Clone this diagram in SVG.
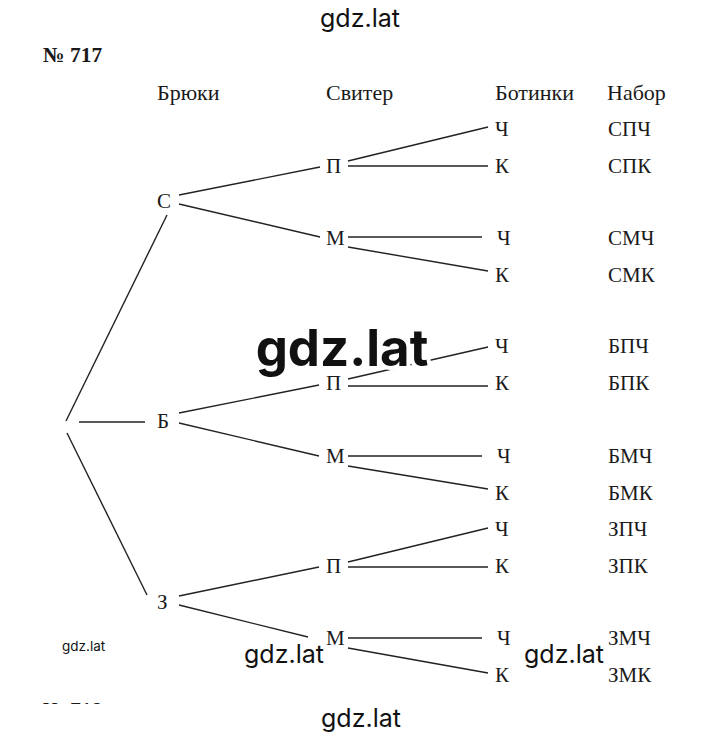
<svg xmlns="http://www.w3.org/2000/svg" width="720" height="736" viewBox="0 0 720 736">
<style>
.t{font-family:"Liberation Serif","Times New Roman",serif;font-size:21px;fill:#1a1a1a}
.h{font-family:"Liberation Serif","Times New Roman",serif;font-size:22px;fill:#1a1a1a}
.b{font-family:"Liberation Serif","Times New Roman",serif;font-size:21.5px;font-weight:bold;fill:#1a1a1a}
.w{font-family:Inter,"Noto Sans",sans-serif;fill:#111}
.c line{stroke:#222;stroke-width:1.4}
</style>
<defs>
<clipPath id="cut"><rect x="0" y="0" width="720" height="704"/></clipPath>
</defs>
<rect width="720" height="736" fill="#fff"/>
<text class="b" x="43" y="62">№ 717</text>
<g id="headers">
<text class="h" x="157" y="100">Брюки</text>
<text class="h" x="326" y="100">Свитер</text>
<text class="h" x="495" y="100">Ботинки</text>
<text class="h" x="607" y="100">Набор</text>
</g>
<g class="c" id="connectors">
<line x1="66" y1="421" x2="167" y2="215"/>
<line x1="79" y1="422" x2="145" y2="422"/>
<line x1="67" y1="433" x2="147" y2="595"/>
<line x1="179" y1="195" x2="320" y2="167"/>
<line x1="179" y1="204" x2="320" y2="237"/>
<line x1="179" y1="413" x2="319" y2="385"/>
<line x1="179" y1="423" x2="319" y2="456"/>
<line x1="179" y1="596" x2="319" y2="567"/>
<line x1="179" y1="605" x2="308" y2="637"/>
<line x1="348" y1="161" x2="488" y2="127"/>
<line x1="348" y1="166" x2="488" y2="166"/>
<line x1="348" y1="237" x2="482" y2="237"/>
<line x1="348" y1="247" x2="488" y2="271"/>
<line x1="348" y1="379" x2="488" y2="347"/>
<line x1="348" y1="386" x2="488" y2="386"/>
<line x1="348" y1="456" x2="482" y2="456"/>
<line x1="348" y1="466" x2="488" y2="489"/>
<line x1="348" y1="562" x2="488" y2="528"/>
<line x1="348" y1="567" x2="488" y2="567"/>
<line x1="348" y1="638" x2="482" y2="638"/>
<line x1="348" y1="648" x2="488" y2="673"/>
</g>
<g id="n-S"><text class="t" x="157" y="208">С</text></g>
<g id="n-B"><text class="t" x="157" y="428">Б</text></g>
<g id="n-Z"><text class="t" x="157" y="609">З</text></g>
<g id="n-SP"><text class="t" x="326" y="173">П</text></g>
<g id="n-SM"><text class="t" x="326" y="245">М</text></g>
<g id="n-BP"><text class="t" x="326" y="390">П</text></g>
<g id="n-BM"><text class="t" x="326" y="463">М</text></g>
<g id="n-ZP"><text class="t" x="326" y="573">П</text></g>
<g id="n-ZM"><text class="t" x="326" y="645">М</text></g>
<g id="n-SPCh"><text class="t" x="495" y="136">Ч</text></g>
<g id="n-SPK"><text class="t" x="495" y="173">К</text></g>
<g id="n-SMCh"><text class="t" x="497" y="245">Ч</text></g>
<g id="n-SMK"><text class="t" x="495" y="282">К</text></g>
<g id="n-BPCh"><text class="t" x="495" y="353">Ч</text></g>
<g id="n-BPK"><text class="t" x="495" y="390">К</text></g>
<g id="n-BMCh"><text class="t" x="497" y="463">Ч</text></g>
<g id="n-BMK"><text class="t" x="495" y="500">К</text></g>
<g id="n-ZPCh"><text class="t" x="495" y="536">Ч</text></g>
<g id="n-ZPK"><text class="t" x="495" y="573">К</text></g>
<g id="n-ZMCh"><text class="t" x="497" y="645">Ч</text></g>
<g id="n-ZMK"><text class="t" x="495" y="682">К</text></g>
<g id="sets">
<text class="t" x="608" y="136">СПЧ</text>
<text class="t" x="608" y="173">СПК</text>
<text class="t" x="608" y="245">СМЧ</text>
<text class="t" x="608" y="282">СМК</text>
<text class="t" x="608" y="353">БПЧ</text>
<text class="t" x="608" y="390">БПК</text>
<text class="t" x="608" y="463">БМЧ</text>
<text class="t" x="608" y="500">БМК</text>
<text class="t" x="608" y="536">ЗПЧ</text>
<text class="t" x="608" y="573">ЗПК</text>
<text class="t" x="608" y="645">ЗМЧ</text>
<text class="t" x="608" y="682">ЗМК</text>
</g>
<text class="b" x="43" y="717" clip-path="url(#cut)">№ 718</text>
<g id="watermarks">
<text class="w" x="360" y="27" font-size="25" text-anchor="middle">gdz.lat</text>
<text class="w" x="342" y="366" font-size="51" font-weight="bold" text-anchor="middle" stroke="#fff" stroke-width="8" stroke-linejoin="round" paint-order="stroke">gdz.lat</text>
<text class="w" x="62" y="651" font-size="13.5">gdz.lat</text>
<text class="w" x="284" y="663" font-size="25" text-anchor="middle" stroke="#fff" stroke-width="4" paint-order="stroke">gdz.lat</text>
<text class="w" x="564" y="663" font-size="25" text-anchor="middle" stroke="#fff" stroke-width="4" paint-order="stroke">gdz.lat</text>
<text class="w" x="361" y="727" font-size="25" text-anchor="middle">gdz.lat</text>
</g>
</svg>
